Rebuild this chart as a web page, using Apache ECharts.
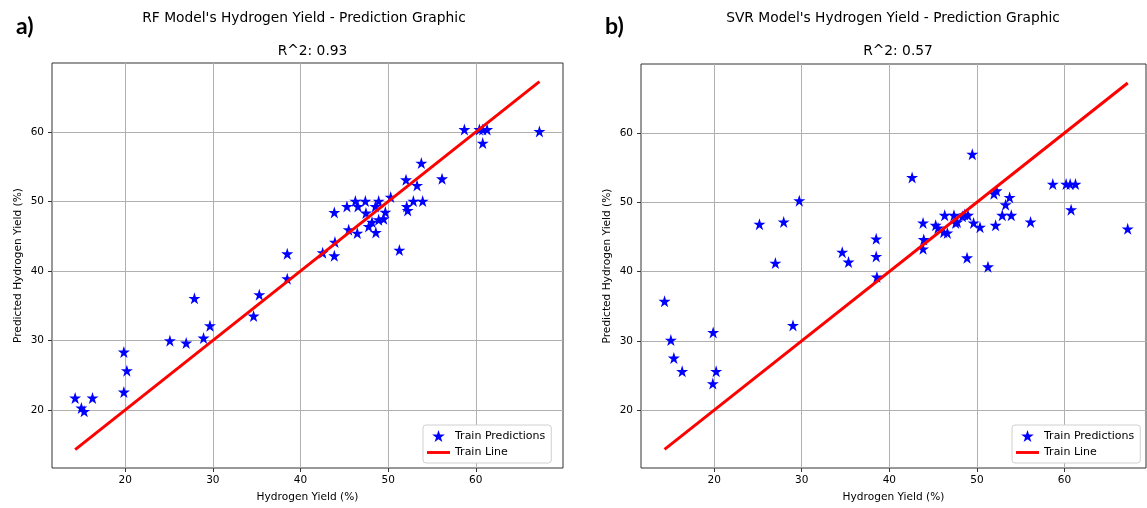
<!DOCTYPE html>
<html><head><meta charset="utf-8">
<script src="https://cdn.jsdelivr.net/npm/echarts@6/dist/echarts.min.js"></script>
<style>html,body{margin:0;padding:0;background:#fff}#c{width:1147px;height:508px}</style>
</head><body><div id="c"></div>
<script>
// ---- data ----
const rfActual = [14.29,15.0,15.32,16.27,19.85,20.19,19.85,25.1,26.96,27.9,28.94,29.67,34.65,35.3,38.49,38.49,42.53,43.93,43.86,43.86,45.3,45.5,46.26,46.56,46.48,47.4,47.47,47.78,48.16,48.54,48.6,48.92,48.92,49.49,49.68,50.29,51.28,52.04,52.12,52.23,52.88,53.3,53.79,53.94,56.15,58.7,60.41,60.79,61.29,60.79,67.26];
const rfPred   = [21.73,20.29,19.81,21.73,28.35,25.66,22.59,29.98,29.64,36.07,30.36,32.13,33.53,36.6,42.49,38.9,42.64,44.17,42.2,48.44,49.3,45.95,50.07,49.3,45.47,50.07,48.35,46.43,47.05,49.3,45.56,50.07,47.39,47.53,48.49,50.65,43.02,53.14,49.3,48.73,50.07,52.33,55.54,50.07,53.28,60.38,60.38,60.38,60.38,58.42,60.1];
const svrActual = [14.34,15.06,15.4,16.35,19.89,19.85,20.23,25.17,26.99,27.94,29.0,29.72,34.62,35.34,38.5,38.5,38.58,42.6,43.85,43.93,43.85,45.29,45.56,46.32,46.21,46.62,47.38,47.57,47.76,48.33,48.6,48.87,48.98,49.47,49.62,50.35,51.26,51.94,52.24,52.13,52.89,53.27,53.73,53.92,56.12,58.66,60.18,60.64,61.25,60.75,67.21];
const svrPred   = [35.71,30.11,27.52,25.6,31.21,23.83,25.6,46.83,41.22,47.16,32.22,50.23,42.8,41.37,44.72,42.18,39.21,53.58,47.02,44.62,43.28,46.68,46.3,48.12,45.68,45.58,48.12,47.02,47.16,47.98,48.22,41.99,48.12,56.93,47.02,46.4,40.69,51.23,51.66,46.68,48.12,49.65,50.71,48.12,47.16,52.62,52.62,52.62,52.62,48.93,46.16];
const tickValues = [20, 30, 40, 50, 60];
const panelLetters = ['a)', 'b)'];
const panelTitles = ["RF Model's Hydrogen Yield - Prediction Graphic", "SVR Model's Hydrogen Yield - Prediction Graphic"];
const r2Texts = ['R^2: 0.93', 'R^2: 0.57'];
const xName = 'Hydrogen Yield (%)';
const yName = 'Predicted Hydrogen Yield (%)';
const seriesNames = ['Train Predictions', 'Train Line'];

// ---- chart ----
const FONT = 'DejaVu Sans';
const STAR = 'path://M50,0 L61.8,36.2 L100,36.2 L69.1,58.6 L80.9,95.1 L50,72.6 L19.1,95.1 L30.9,58.6 L0,36.2 L38.2,36.2 Z';
const BAR = 'path://M0,0 L80,0 L80,10 L0,10 Z';
function idLine(xs){const lo=Math.min(...xs),hi=Math.max(...xs);return [[lo,lo],[hi,hi]];}
function pairs(a,b){return a.map((v,i)=>[v,b[i]]);}

const grids = [
  {left: 52, top: 63, width: 511, height: 405},
  {left: 641, top: 64, width: 505, height: 405}
];
const xRanges = [[11.65, 69.95], [11.65, 69.3]];
const yRange = [11.65, 69.95];

function mkAxis(i, isX){
  const r = isX ? xRanges[i] : yRange;
  return {
    type: 'value', gridIndex: i, min: r[0], max: r[1],
    name: isX ? xName : yName, nameLocation: 'middle', nameGap: isX ? 24 : 28,
    nameTextStyle: {fontFamily: FONT, fontSize: 10.6, color: '#000'},
    axisLine: {show: false},
    axisTick: {show: true, inside: false, length: 4, customValues: tickValues, lineStyle: {color: '#333', width: 1}},
    axisLabel: {show: true, customValues: tickValues, fontFamily: FONT, fontSize: 10.5, color: '#000', margin: isX ? 7 : 8},
    splitLine: {show: true, lineStyle: {color: '#b0b0b0', width: 1}}
  };
}
function mkLegend(left){
  return {left: left, top: 425, orient: 'vertical', backgroundColor: '#fff', borderColor: '#d0d0d0', borderWidth: 1, borderRadius: 3,
    padding: [5, 6, 5, 4], itemGap: 5, itemWidth: 23, itemHeight: 12, selectedMode: false,
    textStyle: {fontFamily: FONT, fontSize: 11, color: '#000'},
    data: [{name: seriesNames[0], icon: STAR}, {name: seriesNames[1], icon: BAR}]};
}

const chart = echarts.init(document.getElementById('c'), null, {renderer: 'canvas'});
const centers = [299, 888];
const r2Centers = [307.5, 893];
const letterX = [11, 600];
const titleStyle = {fontFamily: FONT, fontSize: 13.8, fontWeight: 'normal', color: '#000'};
const letterStyle = {fontFamily: 'Lato', fontSize: 23, fontWeight: 'bold', color: '#000'};
chart.setOption({
  animation: false,
  backgroundColor: '#fff',
  title: [
    {text: panelLetters[0], left: letterX[0], top: 10, textStyle: letterStyle},
    {text: panelLetters[1], left: letterX[1], top: 10, textStyle: letterStyle},
    {text: panelTitles[0], left: centers[0], textAlign: 'center', top: 6, textStyle: titleStyle},
    {text: panelTitles[1], left: centers[1], textAlign: 'center', top: 6, textStyle: titleStyle},
    {text: r2Texts[0], left: r2Centers[0], textAlign: 'center', top: 39, textStyle: titleStyle},
    {text: r2Texts[1], left: r2Centers[1], textAlign: 'center', top: 39, textStyle: titleStyle}
  ],
  grid: grids.map(g => Object.assign({show: true, borderColor: '#333', borderWidth: 1, backgroundColor: '#fff'}, g)),
  xAxis: [mkAxis(0, true), mkAxis(1, true)],
  yAxis: [mkAxis(0, false), mkAxis(1, false)],
  legend: [mkLegend(423), mkLegend(1012)],
  series: [
    {type: 'scatter', name: seriesNames[0], xAxisIndex: 0, yAxisIndex: 0, symbol: STAR, symbolSize: 12, itemStyle: {color: '#0000ff', opacity: 1}, data: pairs(rfActual, rfPred), z: 2},
    {type: 'line', name: seriesNames[1], xAxisIndex: 0, yAxisIndex: 0, showSymbol: false, symbol: 'none', lineStyle: {color: '#ff0000', width: 3}, itemStyle: {color: '#ff0000'}, data: idLine(rfActual), z: 3},
    {type: 'scatter', name: seriesNames[0], xAxisIndex: 1, yAxisIndex: 1, symbol: STAR, symbolSize: 12, itemStyle: {color: '#0000ff', opacity: 1}, data: pairs(svrActual, svrPred), z: 2},
    {type: 'line', name: seriesNames[1], xAxisIndex: 1, yAxisIndex: 1, showSymbol: false, symbol: 'none', lineStyle: {color: '#ff0000', width: 3}, itemStyle: {color: '#ff0000'}, data: idLine(svrActual), z: 3}
  ]
});
</script></body></html>
